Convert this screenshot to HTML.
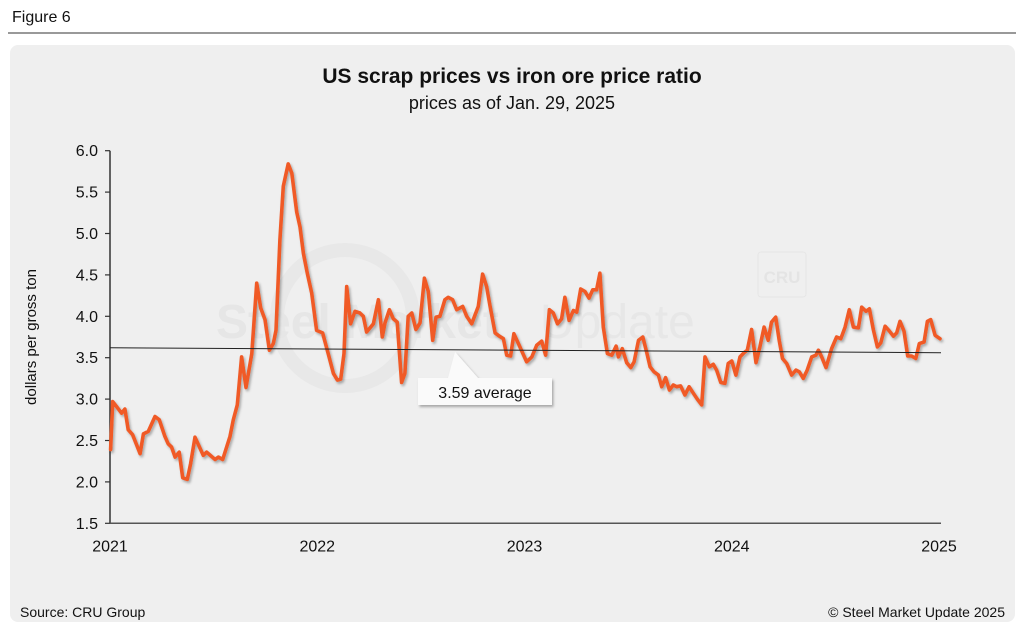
<!DOCTYPE html>
<html><head><meta charset="utf-8"><style>
body{margin:0;background:#fff;font-family:"Liberation Sans",Arial,sans-serif;}
svg{display:block}
</style></head><body>
<svg width="1024" height="633" viewBox="0 0 1024 633" xmlns="http://www.w3.org/2000/svg">
<defs>
<filter id="sh" x="-10%" y="-10%" width="120%" height="130%"><feDropShadow dx="1.5" dy="2" stdDeviation="1.2" flood-color="#000" flood-opacity="0.3"/></filter>
</defs>
<text x="12" y="22" font-size="16" fill="#111">Figure 6</text>
<line x1="8" y1="33" x2="1016" y2="33" stroke="#333" stroke-width="1"/>
<rect x="10" y="45" width="1005" height="577" rx="8" fill="#efefef"/>
<text x="512" y="83" font-size="21" font-weight="bold" text-anchor="middle" fill="#111">US scrap prices vs iron ore price ratio</text>
<text x="512" y="109" font-size="18" text-anchor="middle" fill="#111">prices as of Jan. 29, 2025</text>
<g>
<circle cx="345" cy="318" r="68" fill="none" stroke="#e8e8e8" stroke-width="14"/>
<text x="216" y="338" font-size="48" font-weight="bold" fill="#e6e6e6">Steel Market</text>
<text x="540" y="338" font-size="48" fill="#e7e7e7">Update</text>
<rect x="758" y="252" width="48" height="45" rx="3" fill="none" stroke="#e6e6e6"/>
<text x="782" y="283" font-size="17" font-weight="bold" text-anchor="middle" fill="#e4e4e4">CRU</text>
</g>
<text transform="translate(36,337) rotate(-90)" font-size="15" text-anchor="middle" fill="#111">dollars per gross ton</text>
<g id="axes"></g>
<g id="series"></g>
<g id="avg"></g>
<text x="20" y="617" font-size="14" fill="#111">Source: CRU Group</text>
<text x="1005" y="617" font-size="14" text-anchor="end" fill="#111">© Steel Market Update 2025</text>
</svg>
<script>
const yTicks=[1.5,2.0,2.5,3.0,3.5,4.0,4.5,5.0,5.5,6.0];
const yTickLabels=["1.5","2.0","2.5","3.0","3.5","4.0","4.5","5.0","5.5","6.0"];
const xTicks=[2021,2022,2023,2024,2025];
const xTickLabels=["2021","2022","2023","2024","2025"];
const dates=[0.003,0.013,0.032,0.056,0.072,0.088,0.109,0.145,0.161,0.185,0.217,0.238,0.265,0.281,0.297,0.314,0.334,0.351,0.373,0.389,0.410,0.450,0.466,0.507,0.523,0.544,0.579,0.595,0.614,0.635,0.656,0.684,0.708,0.727,0.748,0.769,0.788,0.801,0.820,0.836,0.860,0.877,0.901,0.917,0.933,0.952,0.973,0.997,1.026,1.053,1.078,1.097,1.113,1.129,1.142,1.161,1.182,1.206,1.222,1.238,1.271,1.295,1.314,1.327,1.348,1.367,1.386,1.407,1.423,1.439,1.456,1.476,1.496,1.517,1.536,1.557,1.573,1.592,1.616,1.632,1.653,1.673,1.702,1.721,1.745,1.777,1.798,1.817,1.834,1.858,1.879,1.898,1.914,1.933,1.949,1.978,
2.010,2.035,2.059,2.083,2.102,2.120,2.139,2.159,2.179,2.195,2.215,2.236,2.252,2.271,2.292,2.311,2.329,2.348,2.364,2.380,2.400,2.421,2.442,2.453,2.472,2.493,2.513,2.529,2.550,2.571,2.589,2.606,2.625,2.646,2.662,2.681,2.699,2.718,2.734,2.753,2.774,2.794,2.815,2.834,2.855,2.871,2.892,2.911,2.927,2.947,2.967,2.983,3.000,3.020,3.040,3.059,3.075,3.096,3.117,3.136,3.156,3.176,3.192,3.212,3.229,3.245,3.265,3.289,3.310,3.326,3.345,3.364,3.386,3.406,3.418,3.434,3.455,3.482,3.506,3.526,3.547,3.567,3.587,3.611,3.627,3.648,3.664,3.683,3.703,3.719,3.740,3.761,3.780,3.796,3.812,3.831,3.849,3.868,3.888,3.905,3.928,3.944,3.960,3.981,4.005];
const ratios=[2.39,2.97,2.91,2.83,2.88,2.63,2.57,2.34,2.58,2.61,2.79,2.75,2.55,2.46,2.42,2.30,2.36,2.05,2.03,2.22,2.54,2.32,2.36,2.27,2.30,2.27,2.55,2.75,2.93,3.51,3.14,3.55,4.40,4.10,3.96,3.59,3.67,3.83,4.92,5.57,5.84,5.73,5.26,5.08,4.76,4.52,4.28,3.83,3.80,3.55,3.31,3.23,3.24,3.55,4.36,3.91,4.06,4.04,4.00,3.81,3.91,4.20,3.75,3.92,4.08,3.97,3.93,3.20,3.31,4.00,4.04,3.84,3.92,4.46,4.30,3.71,3.99,4.00,4.20,4.23,4.20,4.08,4.12,4.00,3.91,4.12,4.51,4.36,4.12,3.80,3.76,3.73,3.53,3.52,3.79,3.63,
3.45,3.51,3.65,3.70,3.53,4.08,4.04,3.91,3.97,4.23,3.95,4.07,4.05,4.33,4.30,4.22,4.32,4.32,4.52,3.87,3.55,3.53,3.64,3.51,3.61,3.44,3.38,3.45,3.71,3.75,3.57,3.39,3.33,3.29,3.15,3.26,3.11,3.17,3.15,3.16,3.05,3.15,3.07,3.00,2.93,3.51,3.39,3.42,3.35,3.20,3.19,3.43,3.46,3.29,3.51,3.56,3.59,3.84,3.44,3.63,3.87,3.71,3.93,3.99,3.71,3.49,3.43,3.29,3.35,3.33,3.25,3.35,3.51,3.53,3.59,3.51,3.38,3.61,3.75,3.73,3.87,4.08,3.87,3.86,4.11,4.06,4.09,3.84,3.63,3.68,3.88,3.82,3.76,3.80,3.94,3.82,3.52,3.52,3.49,3.67,3.69,3.94,3.96,3.77,3.73];
const avgStart=3.62, avgEnd=3.56, avgLabel="3.59 average";

const X0=110,X1=939,Y0=523.3,Y1=150.7;
const xs=t=>X0+(t-2021)/(2025-2021)*(X1-X0);
const xd=d=>xs(2021+d);
const ys=v=>Y0-(v-1.5)/(6-1.5)*(Y0-Y1);
const NS="http://www.w3.org/2000/svg";
function mk(tag,attrs,parent){const e=document.createElementNS(NS,tag);for(const k in attrs)e.setAttribute(k,attrs[k]);parent.appendChild(e);return e;}
const ax=document.getElementById('axes');
let yl=mk('line',{x1:X0,y1:Y1,x2:X0,y2:Y0,stroke:'#333','stroke-width':1.5},ax);


let xl=mk('line',{x1:X0,y1:Y0,x2:941,y2:Y0,stroke:'#555','stroke-width':1.5},ax);


yTicks.forEach((v,i)=>{
  const tk=mk('line',{x1:X0-5,y1:ys(v),x2:X0,y2:ys(v),stroke:'#333','stroke-width':1.2},ax);
  
  
  const t=mk('text',{x:X0-12,y:ys(v)+5.5,'font-size':16,'text-anchor':'end',fill:'#111'},ax);
  t.textContent=yTickLabels[i];
  
  
});
xTicks.forEach((v,i)=>{
  const t=mk('text',{x:xs(v),y:Y0+28,'font-size':16,'text-anchor':'middle',fill:'#111'},ax);
  t.textContent=xTickLabels[i];
  
  
});
const sg=document.getElementById('series');
const pts=dates.map((d,i)=>xd(d).toFixed(1)+','+ys(ratios[i]).toFixed(1)).join(' ');
const pl=mk('polyline',{points:pts,fill:'none',stroke:'#f05a28','stroke-width':3.6,'stroke-linejoin':'round','stroke-linecap':'round',filter:'url(#sh)'},sg);


const ag=document.getElementById('avg');
const al=mk('line',{x1:X0,y1:ys(avgStart),x2:941,y2:ys(avgEnd),stroke:'#222','stroke-width':1},ag);


const ay=ys(avgStart)+(ys(avgEnd)-ys(avgStart))*((455-X0)/(941-X0));
const callout=mk('path',{d:`M418,378 L448,378 L455,${ay+2} L478,378 L552,378 L552,405 L418,405 Z`,fill:'#fafafa',filter:'url(#sh)'},ag);


const at=mk('text',{x:485,y:398,'font-size':16,'text-anchor':'middle',fill:'#111'},ag);
at.textContent=avgLabel;


</script>
</body></html>
